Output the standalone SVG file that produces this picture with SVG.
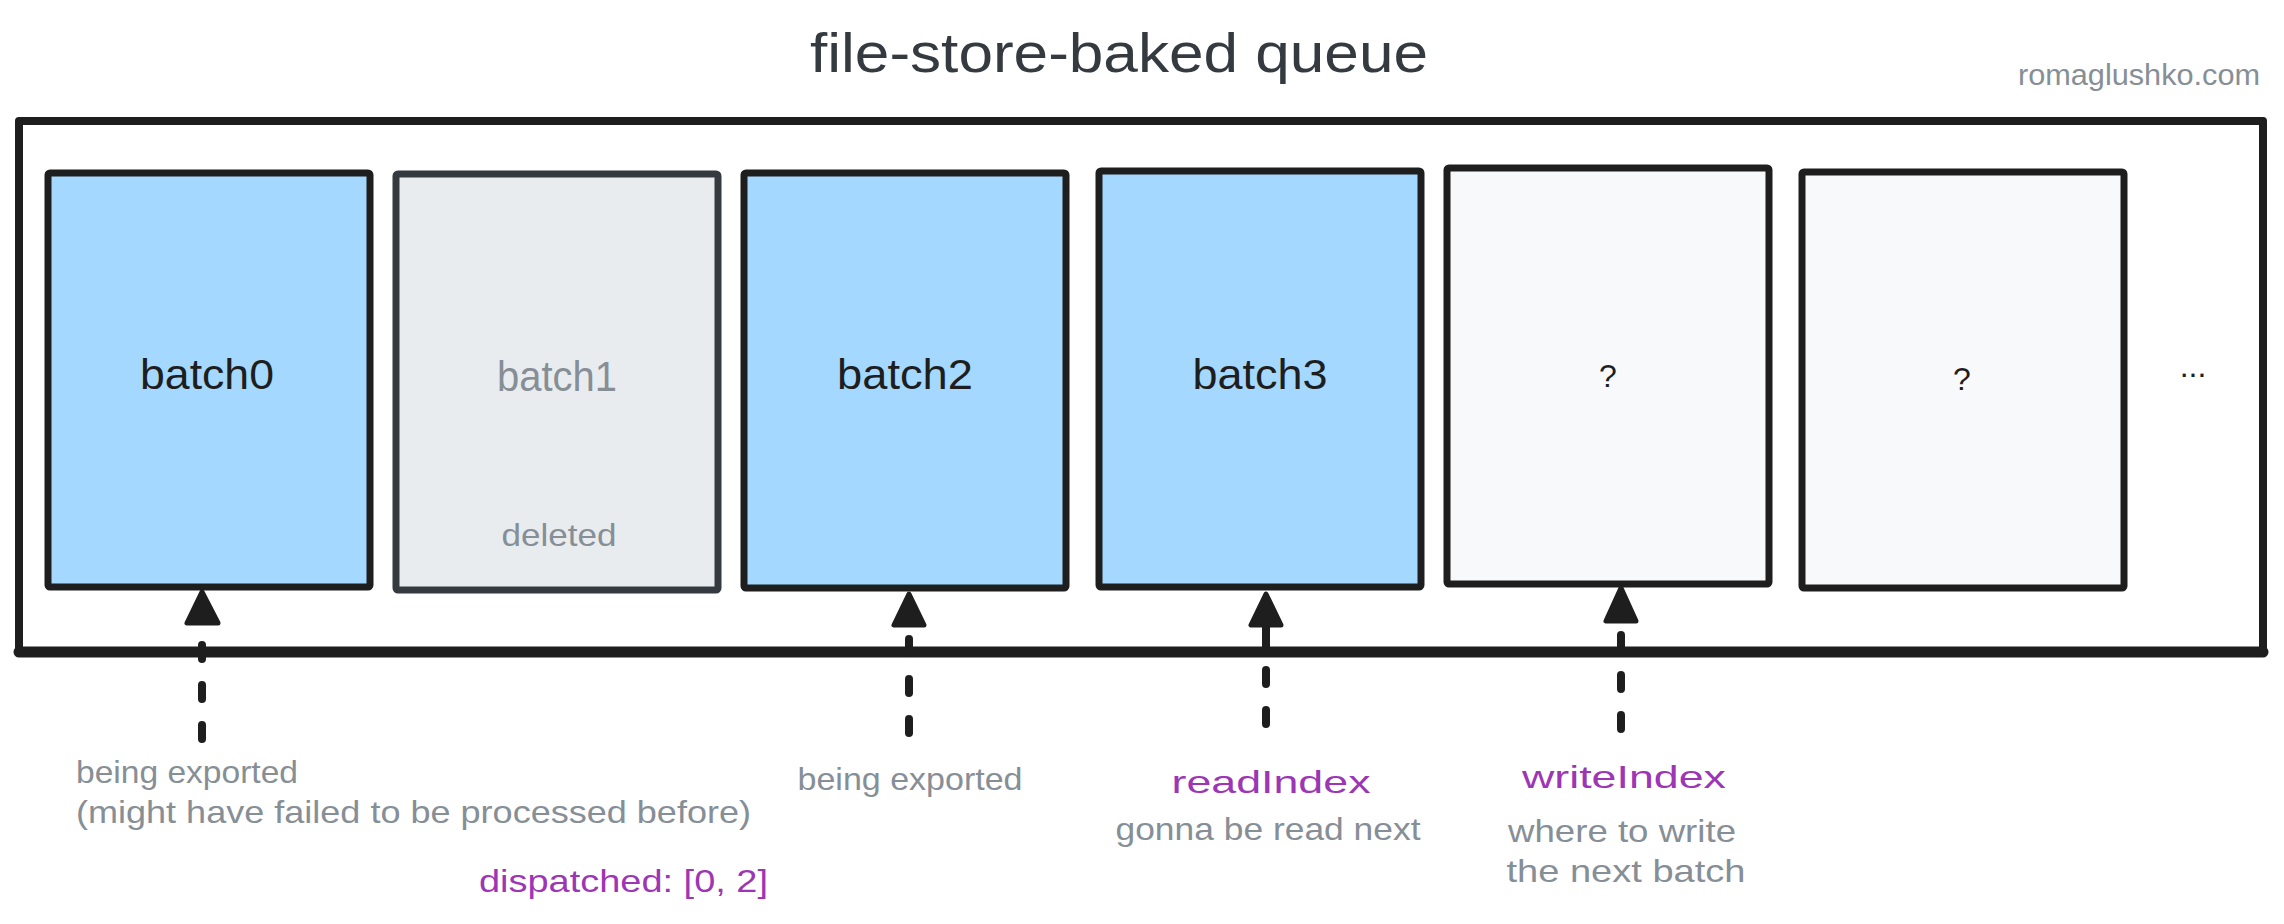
<svg xmlns="http://www.w3.org/2000/svg" width="2284" height="924" viewBox="0 0 2284 924">
<style>
  .box { stroke: #1e1e1e; stroke-width: 7; stroke-linejoin: round; }
  .blue { fill: #a5d8ff; }
  .grey { fill: #e9ecef; stroke: #343a40; }
  .empty { fill: #f8f9fa; }
  .lbl { font-family: "Liberation Sans", Arial, sans-serif; font-size: 42px; fill: #1e1e1e; text-anchor: middle; }
  .muted { fill: #868e96; }
  .note { font-family: "Liberation Sans", Arial, sans-serif; font-size: 32px; fill: #868e96; }
  .purple { fill: #9c36b5; }
  .q { font-family: "Liberation Sans", Arial, sans-serif; font-size: 32px; fill: #1e1e1e; text-anchor: middle; }
  .dash { stroke: #1e1e1e; stroke-width: 8; stroke-linecap: round; stroke-dasharray: 14 26; fill: none; }
  .stem { stroke: #1e1e1e; stroke-width: 8; stroke-linecap: round; fill: none; }
  .head { fill: #1e1e1e; stroke: #1e1e1e; stroke-width: 5; stroke-linejoin: round; }
</style>
<rect width="2284" height="924" fill="#ffffff"/>

<g id="title">
  <text x="1119" y="72" font-family="Liberation Sans, Arial, sans-serif" font-size="56" fill="#343a40" text-anchor="middle" textLength="618" lengthAdjust="spacingAndGlyphs">file-store-baked queue</text>
</g>
<g id="credit">
  <text x="2139" y="85" font-family="Liberation Sans, Arial, sans-serif" font-size="30" fill="#868e96" text-anchor="middle" textLength="242" lengthAdjust="spacingAndGlyphs">romaglushko.com</text>
</g>

<g id="queue">
  <path d="M19,121 H2263 V652" fill="none" stroke="#1e1e1e" stroke-width="8" stroke-linejoin="round"/>
  <path d="M19,121 V652" fill="none" stroke="#1e1e1e" stroke-width="8" stroke-linecap="round"/>
  <path d="M19,652 H2263" fill="none" stroke="#1e1e1e" stroke-width="11" stroke-linecap="round"/>
</g>

<g id="batch0">
  <rect class="box blue" x="48" y="173" width="322" height="414" rx="2"/>
  <text class="lbl" x="207" y="389" textLength="134" lengthAdjust="spacingAndGlyphs">batch0</text>
</g>
<g id="batch1">
  <rect class="box grey" x="396" y="174" width="322" height="416" rx="2"/>
  <text class="lbl muted" x="557" y="391" textLength="120" lengthAdjust="spacingAndGlyphs">batch1</text>
  <text class="note" x="559" y="546" text-anchor="middle" textLength="115" lengthAdjust="spacingAndGlyphs">deleted</text>
</g>
<g id="batch2">
  <rect class="box blue" x="744" y="173" width="322" height="415" rx="2"/>
  <text class="lbl" x="905" y="389" textLength="136" lengthAdjust="spacingAndGlyphs">batch2</text>
</g>
<g id="batch3">
  <rect class="box blue" x="1099" y="171" width="322" height="416" rx="2"/>
  <text class="lbl" x="1260" y="389" textLength="135" lengthAdjust="spacingAndGlyphs">batch3</text>
</g>
<g id="slot4">
  <rect class="box empty" x="1447" y="168" width="322" height="416" rx="2"/>
  <text class="q" x="1608" y="387">?</text>
</g>
<g id="slot5">
  <rect class="box empty" x="1802" y="172" width="322" height="416" rx="2"/>
  <text class="q" x="1962" y="390">?</text>
</g>
<g id="more">
  <text class="q" x="2193" y="377">...</text>
</g>

<g id="connectors">
  <line class="dash" x1="202" y1="739" x2="202" y2="626"/>
  <polygon class="head" points="202,592 187,623 218,623"/>

  <line class="dash" x1="909" y1="733" x2="909" y2="630"/>
  <polygon class="head" points="909,594 894,625 924,625"/>

  <line class="dash" x1="1266" y1="724" x2="1266" y2="660"/>
  <line class="stem" x1="1266" y1="648" x2="1266" y2="622"/>
  <polygon class="head" points="1266,594 1251,625 1281,625"/>

  <line class="dash" x1="1621" y1="729" x2="1621" y2="628"/>
  <polygon class="head" points="1621,588 1606,621 1636,621"/>
</g>

<g id="labels">
  <text class="note" x="76" y="783" textLength="222" lengthAdjust="spacingAndGlyphs">being exported</text>
  <text class="note" x="76" y="823" textLength="675" lengthAdjust="spacingAndGlyphs">(might have failed to be processed before)</text>
  <text class="note purple" x="479" y="892" textLength="289" lengthAdjust="spacingAndGlyphs">dispatched: [0, 2]</text>
  <text class="note" x="910" y="790" text-anchor="middle" textLength="225" lengthAdjust="spacingAndGlyphs">being exported</text>
  <text class="note purple" x="1271" y="793" font-size="44" text-anchor="middle" textLength="199" lengthAdjust="spacingAndGlyphs">readIndex</text>
  <text class="note" x="1268" y="840" text-anchor="middle" textLength="305" lengthAdjust="spacingAndGlyphs">gonna be read next</text>
  <text class="note purple" x="1624" y="788" font-size="44" text-anchor="middle" textLength="204" lengthAdjust="spacingAndGlyphs">writeIndex</text>
  <text class="note" x="1622" y="842" text-anchor="middle" textLength="228" lengthAdjust="spacingAndGlyphs">where to write</text>
  <text class="note" x="1626" y="882" text-anchor="middle" textLength="239" lengthAdjust="spacingAndGlyphs">the next batch</text>
</g>
</svg>
